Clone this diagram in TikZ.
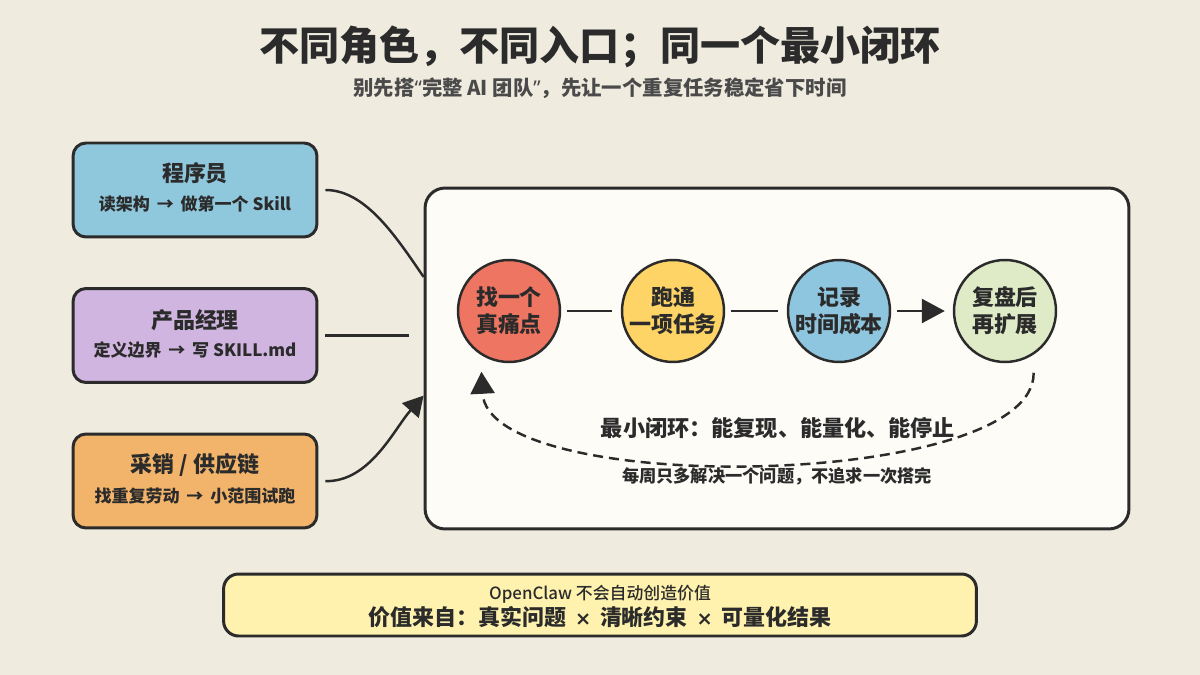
\documentclass[tikz,border=0pt]{standalone}
\usepackage{fontspec}
\setmainfont{Noto Sans CJK SC}
\newfontfamily\cjkmedium{Noto Sans CJK SC Medium}
\newfontfamily\latinsans{Noto Sans}
\newfontfamily\symbolsans{DejaVu Sans}
\usetikzlibrary{arrows.meta}

\definecolor{paper}{HTML}{F0EBDF}
\definecolor{ink}{HTML}{2B2B2B}
\definecolor{subgray}{HTML}{4A4A4A}
\definecolor{progblue}{HTML}{8FC7DC}
\definecolor{pmpurple}{HTML}{CFB5DF}
\definecolor{supplyorange}{HTML}{F2B46B}
\definecolor{panelwhite}{HTML}{FDFCF7}
\definecolor{painred}{HTML}{EE7561}
\definecolor{runyellow}{HTML}{FED467}
\definecolor{costblue}{HTML}{8FC6DF}
\definecolor{reviewgreen}{HTML}{DEEBC6}
\definecolor{noteyellow}{HTML}{FEF2AE}

\newcommand{\crossmark}{\,{\symbolsans\bfseries\fontsize{11}{11}\selectfont ×}\,}

\begin{document}
\begin{tikzpicture}[x=0.02cm, y=-0.02cm]
    \fill[paper] (0,0) rectangle (1200,675);
    \useasboundingbox (0,0) rectangle (1200,675);

    \tikzstyle{every node}=[inner sep=0pt, text=ink, font=\bfseries]
    \node (title) at (600,47) {\fontsize{22.8}{27}\selectfont 不同角色，不同入口；同一个最小闭环};
    \node[text=subgray] (subtitle) at (600,88) {\fontsize{11.6}{14}\selectfont 别先搭{\latinsans“}完整 AI 团队{\latinsans”}，先让一个重复任务稳定省下时间};

    \tikzstyle{every node}=[rectangle, rounded corners=0.26cm, draw=ink, line width=1.7pt, minimum width=4.88cm, minimum height=1.88cm, inner sep=0pt]
    \node[fill=progblue] (prog) at (195,190) {};
    \node[fill=pmpurple] (pm) at (195,335.5) {};
    \node[fill=supplyorange] (supply) at (195,481) {};

    \tikzstyle{every node}=[inner sep=0pt, text=ink, font=\bfseries\fontsize{12.5}{15}\selectfont]
    \node (progtitle) at (195,173) {程序员};
    \node (pmtitle) at (195,320) {产品经理};
    \node (supplytitle) at (195,465) {采销 / 供应链};

    \tikzstyle{every node}=[inner sep=0pt, text=ink, font=\bfseries\fontsize{9.7}{11}\selectfont]
    \node (progtask) at (195,204) {读架构 \,→\, 做第一个 Skill};
    \node (pmtask) at (195,350) {定义边界 \,→\, 写 SKILL.md};
    \node (supplytask) at (195,496) {找重复劳动 \,→\, 小范围试跑};

    \tikzstyle{every node}=[rectangle, draw=ink, fill=panelwhite, line width=1.7pt, rounded corners=0.4cm, minimum width=14.08cm, minimum height=6.82cm, inner sep=0pt]
    \node (panel) at (777,358.5) {};

    \tikzstyle{edge}=[draw=ink, line width=1.4pt]
    \draw[edge, shorten <=0.14cm] (prog.east) .. controls (365,190) and (395,235) .. (panel.167);
    \draw[edge, shorten <=0.14cm, shorten >=0.3cm] (pm.east) -- (pm.east -| panel.west);
    \draw[edge, shorten <=0.14cm, -{Triangle[length=0.4cm, width=0.44cm]}] (supply.east) .. controls (370,482) and (394,429) .. (panel.186);

    \tikzstyle{every node}=[circle, draw=ink, line width=1.4pt, minimum size=2.04cm, inner sep=0pt, align=center, text=ink, font=\bfseries\fontsize{12.5}{15.3}\selectfont]
    \node[fill=painred] (pain) at (509,311) {找一个\\真痛点};
    \node[fill=runyellow] (run) at (673,311) {跑通\\一项任务};
    \node[fill=costblue] (cost) at (839,311) {记录\\时间成本};
    \node[fill=reviewgreen] (review) at (1005,311) {复盘后\\再扩展};

    \tikzstyle{edge}=[draw=ink, line width=1.5pt]
    \draw[edge, shorten <=0.12cm, shorten >=0.18cm] (pain) -- (run);
    \draw[edge, shorten <=0.12cm, shorten >=0.18cm] (run) -- (cost);
    \draw[edge, shorten <=0.12cm, shorten >=0.16cm, -{Triangle[length=0.46cm, width=0.48cm]}] (cost) -- (review);

    \tikzstyle{cycleline}=[draw=ink, line width=1.4pt, dash pattern=on 0.2cm off 0.12cm]
    \draw[cycleline, shorten <=0.36cm, shorten >=0.34cm, -{Triangle[length=0.44cm, width=0.48cm]}] (review.-57) .. controls (1035,490) and (488,498) .. (pain.-123);

    \tikzstyle{every node}=[inner sep=0pt, text=ink, font=\bfseries\fontsize{12.6}{15}\selectfont]
    \node (looptitle) at (778,428) {最小闭环：能复现、能量化、能停止};
    \tikzstyle{every node}=[inner sep=0pt, text=ink, font=\bfseries\fontsize{9.8}{12}\selectfont]
    \node (loopnote) at (777,476) {每周只多解决一个问题，不追求一次搭完};

    \tikzstyle{every node}=[rectangle, draw=ink, fill=noteyellow, line width=1.7pt, rounded corners=0.3cm, minimum width=15.06cm, minimum height=1.24cm, inner sep=0pt]
    \node (note) at (600,605) {};

    \tikzstyle{every node}=[inner sep=0pt, text=ink]
    \node[font=\cjkmedium\fontsize{9.6}{12}\selectfont] (noteline1) at (600,594) {OpenClaw 不会自动创造价值};
    \node[font=\bfseries\fontsize{12.5}{15}\selectfont] (noteline2) at (600,617) {价值来自：真实问题 \crossmark{} 清晰约束 \crossmark{} 可量化结果};
\end{tikzpicture}
\end{document}
